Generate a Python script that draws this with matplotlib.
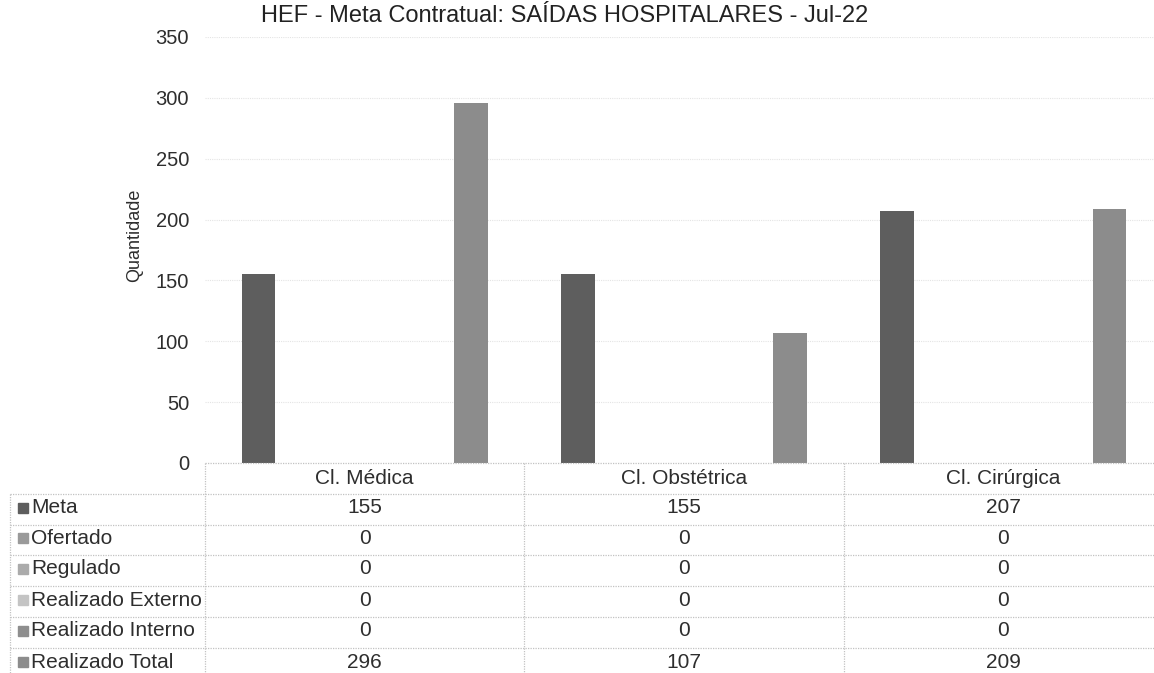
import matplotlib
matplotlib.use("Agg")
import matplotlib.pyplot as plt
from matplotlib.patches import Rectangle
from matplotlib.lines import Line2D
import matplotlib.transforms as mtransforms
import numpy as np

plt.rcParams['font.family'] = ['Liberation Sans', 'DejaVu Sans']

title = "HEF - Meta Contratual: SAÍDAS HOSPITALARES - Jul-22"
categories = ["Cl. Médica", "Cl. Obstétrica", "Cl. Cirúrgica"]
series_names = ["Meta", "Ofertado", "Regulado", "Realizado Externo",
                "Realizado Interno", "Realizado Total"]
meta = [155, 155, 207]
ofertado = [0, 0, 0]
regulado = [0, 0, 0]
realizado_externo = [0, 0, 0]
realizado_interno = [0, 0, 0]
realizado_total = [296, 107, 209]
series_values = [meta, ofertado, regulado, realizado_externo,
                 realizado_interno, realizado_total]
series_colors = ["#5e5e5e", "#9a9a9a", "#ababab", "#c4c4c4", "#8e8e8e", "#8c8c8c"]
y_ticks = [0, 50, 100, 150, 200, 250, 300, 350]
y_label = "Quantidade"

W, H = 1154, 673
fig = plt.figure(figsize=(W / 100, H / 100), dpi=100)
text_color = "#2e2e2e"

def fx(px):
    return px / W

def fy(py):
    return 1 - py / H

ax_left, ax_right, ax_top, ax_bottom = 205, 1163, 37, 463
ax = fig.add_axes([fx(ax_left), fy(ax_bottom), fx(ax_right - ax_left), (ax_bottom - ax_top) / H])

n = len(series_names)
slot = 0.133
bw = 0.106
x = np.arange(len(categories))
for i, (vals, col) in enumerate(zip(series_values, series_colors)):
    ax.bar(x + (i - (n - 1) / 2) * slot, vals, width=bw, color=col, zorder=3)

ax.set_xlim(-0.5, len(categories) - 0.5)
ax.set_ylim(0, 350)
ax.set_yticks(y_ticks)
ax.set_yticklabels([str(t) for t in y_ticks], fontsize=14.5, color=text_color)
ax.tick_params(axis='y', length=0, pad=11.5)
ax.set_xticks([])
for s in ax.spines.values():
    s.set_visible(False)
ax.yaxis.grid(True, color="#e4e4e4", linestyle=(0, (1, 1)), linewidth=0.8, zorder=0)
ax.set_axisbelow(True)

fig.text(fx(135), fy(235), y_label, rotation=90, ha='center', va='center',
         fontsize=13, color=text_color)
fig.text(fx(565), fy(16), title, ha='center', va='center', fontsize=17, color="#222222")

# data table
line_kw = dict(color="#c2c2c2", linestyle=(0, (1, 1)), linewidth=0.9)
row_edges = [463, 494, 524.5, 555, 586, 617, 648, 679]
left_border = 10
fig.add_artist(Line2D([fx(ax_left), 1], [fy(463), fy(463)], transform=fig.transFigure, **line_kw))
for ry in row_edges[1:-1]:
    fig.add_artist(Line2D([fx(left_border), 1], [fy(ry), fy(ry)], transform=fig.transFigure, **line_kw))
fig.add_artist(Line2D([fx(left_border), fx(left_border)], [fy(494), 0], transform=fig.transFigure, **line_kw))
trans = mtransforms.blended_transform_factory(ax.transData, fig.transFigure)
for b in np.arange(len(categories) + 1) - 0.5:
    fig.add_artist(Line2D([b, b], [fy(463), 0], transform=trans, **line_kw))

for ci, cat in enumerate(categories):
    fig.text(ci, fy(479), cat, transform=trans, ha='center', va='center',
             fontsize=15, color=text_color)
for ri, (name, vals, col) in enumerate(zip(series_names, series_values, series_colors)):
    cy = (row_edges[ri + 1] + row_edges[ri + 2]) / 2 - 1.5
    fig.add_artist(Rectangle((fx(18), fy(cy + 5)), fx(10), 10 / H,
                             transform=fig.transFigure, color=col))
    fig.text(fx(31), fy(cy), name, ha='left', va='center', fontsize=15, color=text_color)
    for ci, v in enumerate(vals):
        fig.text(ci, fy(cy), str(v), transform=trans, ha='center', va='center',
                 fontsize=15, color=text_color)

fig.savefig("out.png", dpi=100, facecolor="white")
